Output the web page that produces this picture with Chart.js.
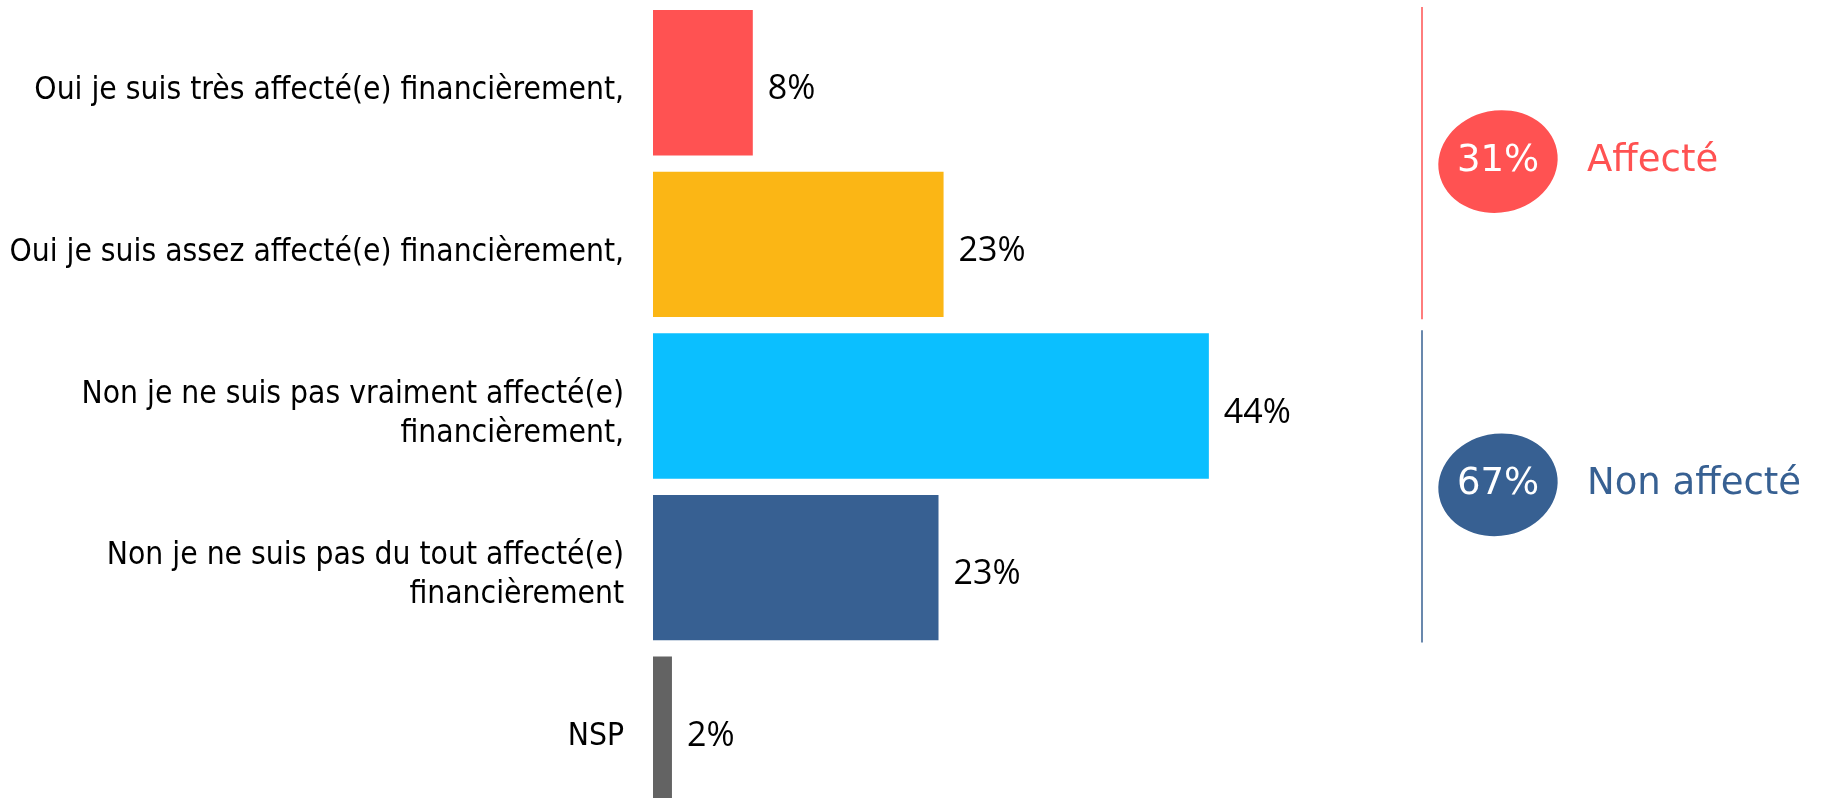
<!DOCTYPE html>
<html>
<head>
<meta charset="utf-8">
<script src="https://cdn.jsdelivr.net/npm/chart.js@4/dist/chart.umd.min.js"></script>
<style>
  html, body { margin: 0; padding: 0; background: #fff; overflow: hidden; }
  #chart { display: block; }
</style>
</head>
<body>
<canvas id="chart" width="1823" height="810"></canvas>
<script>
const categories = [
  ["Oui je suis très affecté(e) financièrement,"],
  ["Oui je suis assez affecté(e) financièrement,"],
  ["Non je ne suis pas vraiment affecté(e)", "financièrement,"],
  ["Non je ne suis pas du tout affecté(e)", "financièrement"],
  ["NSP"],
]
const values = [7.9, 23.0, 44.0, 22.6, 1.5]
const barColors = ["#ff5252", "#fbb615", "#0bbfff", "#376092", "#636363"]

const groupNames = ["Affecté", "Non affecté"]
const groupTotals = [31, 67]
const groupFirst = [0, 2]
const groupLast = [1, 3]
const groupColors = ["#ff5252", "#376092"]

// value labels to the right of each bar
const valueLabels = {
  id: "valueLabels",
  afterDatasetsDraw(chart) {
    const ctx = chart.ctx
    const meta = chart.getDatasetMeta(0)
    ctx.save()
    ctx.font = "34px 'Open Sans'"
    ctx.fillStyle = "#000"
    ctx.textAlign = "left"
    ctx.textBaseline = "middle"
    meta.data.forEach((bar, i) => {
      ctx.fillText(Math.round(values[i]) + "%", bar.x + 15, bar.y + 7)
    })
    ctx.restore()
  },
}

// brackets with totals on the right
const groupTotalsPlugin = {
  id: "groupTotals",
  afterDraw(chart) {
    const ctx = chart.ctx
    const yScale = chart.scales.y
    const right = chart.chartArea.right
    const pitch = yScale.getPixelForValue(1) - yScale.getPixelForValue(0)
    ctx.save()
    groupNames.forEach((name, g) => {
      const y0 = yScale.getPixelForValue(groupFirst[g])
      const y1 = yScale.getPixelForValue(groupLast[g])
      const color = groupColors[g]
      ctx.strokeStyle = color
      ctx.lineWidth = 1.5
      ctx.beginPath()
      ctx.moveTo(right + 11, Math.max(0, y0 - pitch / 2 + 5))
      ctx.lineTo(right + 11, y1 + pitch / 2 - 6)
      ctx.stroke()

      const cy = (y0 + y1) / 2 - 2
      const cx = right + 87
      ctx.fillStyle = color
      ctx.beginPath()
      ctx.ellipse(cx, cy, 60, 51, -0.2, 0, Math.PI * 2)
      ctx.fill()

      ctx.font = "37px 'DejaVu Sans'"
      ctx.textBaseline = "middle"
      ctx.textAlign = "center"
      ctx.fillStyle = "#fff"
      ctx.fillText(groupTotals[g] + "%", cx, cy)
      ctx.textAlign = "left"
      ctx.fillStyle = color
      ctx.fillText(name, right + 176, cy)
    })
    ctx.restore()
  },
}

new Chart(document.getElementById("chart"), {
  type: "bar",
  data: {
    labels: categories,
    datasets: [
      {
        data: values,
        backgroundColor: barColors,
        borderWidth: 0,
        categoryPercentage: 0.9,
        barPercentage: 1,
      },
    ],
  },
  options: {
    indexAxis: "y",
    responsive: false,
    animation: false,
    devicePixelRatio: 1,
    layout: {
      padding: { left: 0, right: 412, top: 2, bottom: 0 },
    },
    scales: {
      x: {
        display: false,
        min: 0,
        max: 60,
      },
      y: {
        afterFit(scale) {
          scale.width = 653
          scale.paddingTop = 0
          scale.paddingBottom = 0
        },
        border: { display: false },
        grid: { display: false },
        ticks: {
          color: "#000",
          padding: 21,
          labelOffset: 8,
          font: { family: "'DejaVu Sans Condensed'", size: 31.5, lineHeight: 1.25 },
        },
      },
    },
    plugins: {
      legend: { display: false },
      tooltip: { enabled: false },
    },
  },
  plugins: [valueLabels, groupTotalsPlugin],
})
</script>
</body>
</html>
